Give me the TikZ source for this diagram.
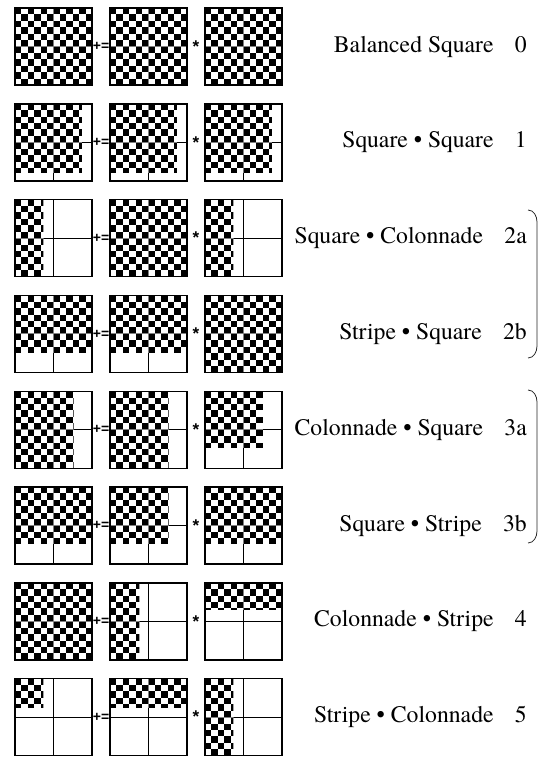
\documentclass[tikz,border=0pt]{standalone}
\usepackage{fontspec}
\setmainfont{texgyretermes}[
    Extension=.otf,
    UprightFont=*-regular,
    BoldFont=*-bold,
    ItalicFont=*-italic,
    BoldItalicFont=*-bolditalic
]
\newfontfamily\opfont{Liberation Sans}
\usetikzlibrary{
    positioning,
    calc
}
\newcommand{\cellsz}{6.4167pt}

\begin{document}
\begin{tikzpicture}
[
    x=1pt,
    y=-1pt,
    midline/.style={
        line width=0.9pt
    },
    matbox/.style 2 args={
        rectangle,
        draw=black,
        line width=1.4pt,
        minimum width=77pt,
        minimum height=77pt,
        inner sep=0pt,
        outer sep=0pt,
        path picture={
            \path (path picture bounding box.north west) coordinate (nw)
                  (path picture bounding box.north) coordinate (nn)
                  (path picture bounding box.south) coordinate (ss)
                  (path picture bounding box.west) coordinate (ww)
                  (path picture bounding box.east) coordinate (ee);
            \draw[midline] (nn) -- (ss) (ww) -- (ee);
            \begin{scope}
                \clip (nw) rectangle ++(#1*77pt,-#2*77pt);
                \fill[white] (nw) rectangle ++(77pt,-77pt);
                \foreach \i in {0,...,11}{
                    \pgfmathtruncatemacro{\sft}{mod(\i,2)}
                    \foreach \j in {0,2,...,10}
                        \fill (nw) ++(\i*\cellsz,-\j*\cellsz-\sft*\cellsz)
                            rectangle ++(\cellsz,-\cellsz);
                }
                \draw[midline, gray] (nn) -- (ss) (ww) -- (ee);
            \end{scope}
        }
    },
    oper/.style={
        font={\fontsize{14}{14}\selectfont\opfont\bfseries},
        inner sep=0pt
    },
    star/.style={
        oper,
        font={\fontsize{17}{17}\selectfont\opfont\bfseries}
    },
    rowlabel/.style={
        font={\fontsize{23.7}{28}\selectfont\rmfamily},
        anchor=east,
        inner sep=0pt
    },
    brace/.style={
        line width=0.8pt,
        black!85
    }
]

\useasboundingbox (0,0) rectangle (542,758);

\coordinate (rt) at (527,0);


% =====================
% ROW 0
% =====================

\node[matbox={1}{1}] (c0) at (53.5,46.5) {};
\node[matbox={1}{1}, right=18pt of c0] (a0) {};
\node[matbox={1}{1}, right=18pt of a0] (b0) {};

\node[oper] (pe0) at ($(c0)!0.5!(a0)$) {+=};
\node[star] (st0) at ($(a0)!0.5!(b0)$) {*};

\node[rowlabel] (l0) at (b0 -| rt) {Balanced Square\hspace{0.9em}0};


% =====================
% ROW 1
% =====================

\node[matbox={.87}{.89}, below=18.8pt of c0] (c1) {};
\node[matbox={.87}{.89}, right=18pt of c1] (a1) {};
\node[matbox={.87}{.89}, right=18pt of a1] (b1) {};

\node[oper] (pe1) at ($(c1)!0.5!(a1)$) {+=};
\node[star] (st1) at ($(a1)!0.5!(b1)$) {*};

\node[rowlabel] (l1) at (b1 -| rt) {Square \textbullet{} Square\hspace{0.9em}1};


% =====================
% ROW 2a
% =====================

\node[matbox={.37}{1}, below=18.8pt of c1] (c2a) {};
\node[matbox={1}{1}, right=18pt of c2a] (a2a) {};
\node[matbox={.37}{1}, right=18pt of a2a] (b2a) {};

\node[oper] (pe2a) at ($(c2a)!0.5!(a2a)$) {+=};
\node[star] (st2a) at ($(a2a)!0.5!(b2a)$) {*};

\node[rowlabel] (l2a) at (b2a -| rt) {Square \textbullet{} Colonnade\hspace{0.9em}2a};


% =====================
% ROW 2b
% =====================

\node[matbox={1}{.74}, below=18.8pt of c2a] (c2b) {};
\node[matbox={1}{.74}, right=18pt of c2b] (a2b) {};
\node[matbox={1}{1}, right=18pt of a2b] (b2b) {};

\node[oper] (pe2b) at ($(c2b)!0.5!(a2b)$) {+=};
\node[star] (st2b) at ($(a2b)!0.5!(b2b)$) {*};

\node[rowlabel] (l2b) at (b2b -| rt) {Stripe \textbullet{} Square\hspace{0.9em}2b};


% =====================
% ROW 3a
% =====================

\node[matbox={.76}{1}, below=18.8pt of c2b] (c3a) {};
\node[matbox={.76}{1}, right=18pt of c3a] (a3a) {};
\node[matbox={.75}{.73}, right=18pt of a3a] (b3a) {};

\node[oper] (pe3a) at ($(c3a)!0.5!(a3a)$) {+=};
\node[star] (st3a) at ($(a3a)!0.5!(b3a)$) {*};

\node[rowlabel] (l3a) at (b3a -| rt) {Colonnade \textbullet{} Square\hspace{0.9em}3a};


% =====================
% ROW 3b
% =====================

\node[matbox={1}{.74}, below=18.8pt of c3a] (c3b) {};
\node[matbox={.76}{.74}, right=18pt of c3b] (a3b) {};
\node[matbox={1}{.74}, right=18pt of a3b] (b3b) {};

\node[oper] (pe3b) at ($(c3b)!0.5!(a3b)$) {+=};
\node[star] (st3b) at ($(a3b)!0.5!(b3b)$) {*};

\node[rowlabel] (l3b) at (b3b -| rt) {Square \textbullet{} Stripe\hspace{0.9em}3b};


% =====================
% ROW 4
% =====================

\node[matbox={1}{1}, below=18.8pt of c3b] (c4) {};
\node[matbox={.38}{1}, right=18pt of c4] (a4) {};
\node[matbox={1}{.35}, right=18pt of a4] (b4) {};

\node[oper] (pe4) at ($(c4)!0.5!(a4)$) {+=};
\node[star] (st4) at ($(a4)!0.5!(b4)$) {*};

\node[rowlabel] (l4) at (b4 -| rt) {Colonnade \textbullet{} Stripe\hspace{0.9em}4};


% =====================
% ROW 5
% =====================

\node[matbox={.37}{.37}, below=18.8pt of c4] (c5) {};
\node[matbox={1}{.37}, right=18pt of c5] (a5) {};
\node[matbox={.37}{1}, right=18pt of a5] (b5) {};

\node[oper] (pe5) at ($(c5)!0.5!(a5)$) {+=};
\node[star] (st5) at ($(a5)!0.5!(b5)$) {*};

\node[rowlabel] (l5) at (b5 -| rt) {Stripe \textbullet{} Colonnade\hspace{0.9em}5};


% =====================
% BRACES
% =====================

\draw[brace]
(528,210) to[out=0,in=90] (537,222)
--
(537,346) to[out=-90,in=0] (528,358);

\draw[brace]
(528,390) to[out=0,in=90] (537,402)
--
(537,531) to[out=-90,in=0] (528,543);

\end{tikzpicture}
\end{document}
